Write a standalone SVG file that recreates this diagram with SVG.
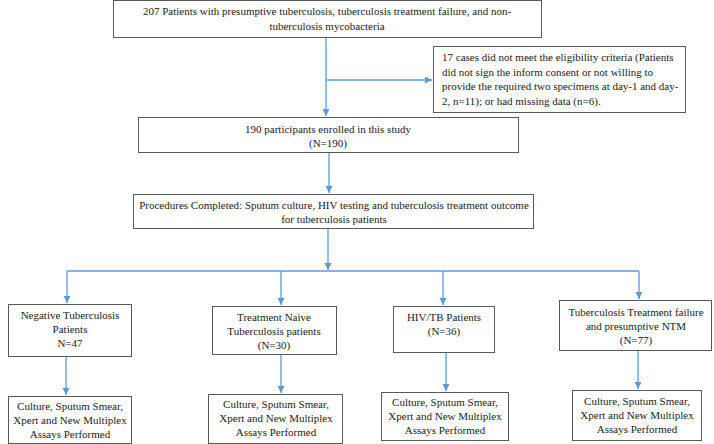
<svg xmlns="http://www.w3.org/2000/svg" width="714" height="444" viewBox="0 0 714 444">
<defs>
<marker id="ah" markerUnits="userSpaceOnUse" markerWidth="8" markerHeight="8" refX="7" refY="3.5" orient="auto">
<path d="M0,0 L7,3.5 L0,7 z" fill="#5B9BD5"/>
</marker>
<style>
.box{fill:#fff;stroke:#595959;stroke-width:1}
.t{font-family:"Liberation Serif","Times New Roman",serif;font-size:11px;fill:#222}
.c{text-anchor:middle}
.ln{fill:none;stroke:#5B9BD5;stroke-width:1.3}
</style>
</defs>
<rect width="714" height="444" fill="#fff"/>
<g id="connectors">
<path class="ln" d="M326,37 V116" marker-end="url(#ah)"/>
<path class="ln" d="M326,80 H432" marker-end="url(#ah)"/>
<path class="ln" d="M329,152 V193" marker-end="url(#ah)"/>
<path class="ln" d="M328,228 V270" marker-end="url(#ah)"/>
<path class="ln" d="M67,271 H639"/>
<path class="ln" d="M67,271 V303" marker-end="url(#ah)"/>
<path class="ln" d="M281,271 V305" marker-end="url(#ah)"/>
<path class="ln" d="M443,271 V305" marker-end="url(#ah)"/>
<path class="ln" d="M639,271 V299" marker-end="url(#ah)"/>
<path class="ln" d="M66,356 V395" marker-end="url(#ah)"/>
<path class="ln" d="M281,354 V393" marker-end="url(#ah)"/>
<path class="ln" d="M446,352 V391" marker-end="url(#ah)"/>
<path class="ln" d="M638,350 V389" marker-end="url(#ah)"/>
</g>
<g id="n-top">
<rect class="box" x="113.5" y="0.5" width="428" height="37"/>
<text class="t c" x="327" y="15">207 Patients with presumptive tuberculosis, tuberculosis treatment failure, and non-</text>
<text class="t c" x="327" y="29.5">tuberculosis mycobacteria</text>
</g>
<g id="n-excluded">
<rect class="box" x="433.5" y="46.5" width="252" height="66"/>
<text class="t" x="442" y="61">17 cases did not meet the eligibility criteria (Patients</text>
<text class="t" x="442" y="75.5">did not sign the inform consent or not willing to</text>
<text class="t" x="442" y="90">provide the required two specimens at day-1 and day-</text>
<text class="t" x="442" y="104.5">2, n=11); or had missing data (n=6).</text>
</g>
<g id="n-enrolled">
<rect class="box" x="138.5" y="117.5" width="380" height="35"/>
<text class="t c" x="328" y="133">190 participants enrolled in this study</text>
<text class="t c" x="328" y="147">(N=190)</text>
</g>
<g id="n-procedures">
<rect class="box" x="133.5" y="194.5" width="400" height="34"/>
<text class="t c" x="334" y="209">Procedures Completed: Sputum culture, HIV testing and tuberculosis treatment outcome</text>
<text class="t c" x="334" y="223">for tuberculosis patients</text>
</g>
<g id="n-negative">
<rect class="box" x="8.5" y="304.5" width="123" height="52"/>
<text class="t c" x="70" y="319">Negative Tuberculosis</text>
<text class="t c" x="70" y="333">Patients</text>
<text class="t c" x="70" y="347">N=47</text>
</g>
<g id="n-naive">
<rect class="box" x="212.5" y="306.5" width="124" height="48"/>
<text class="t c" x="274" y="321">Treatment Naive</text>
<text class="t c" x="274" y="335">Tuberculosis patients</text>
<text class="t c" x="274" y="349">(N=30)</text>
</g>
<g id="n-hivtb">
<rect class="box" x="393.5" y="306.5" width="101" height="46"/>
<text class="t c" x="444" y="321">HIV/TB Patients</text>
<text class="t c" x="444" y="335">(N=36)</text>
</g>
<g id="n-failure">
<rect class="box" x="559.5" y="300.5" width="152" height="50"/>
<text class="t c" x="636" y="316">Tuberculosis Treatment failure</text>
<text class="t c" x="636" y="330">and presumptive NTM</text>
<text class="t c" x="636" y="344">(N=77)</text>
</g>
<g id="n-assay1">
<rect class="box" x="8.5" y="396.5" width="123" height="47"/>
<text class="t c" x="70" y="410">Culture, Sputum Smear,</text>
<text class="t c" x="70" y="424">Xpert and New Multiplex</text>
<text class="t c" x="70" y="438">Assays Performed</text>
</g>
<g id="n-assay2">
<rect class="box" x="208.5" y="394.5" width="134" height="49"/>
<text class="t c" x="276" y="408">Culture, Sputum Smear,</text>
<text class="t c" x="276" y="422">Xpert and New Multiplex</text>
<text class="t c" x="276" y="436">Assays Performed</text>
</g>
<g id="n-assay3">
<rect class="box" x="381.5" y="392.5" width="127" height="48"/>
<text class="t c" x="445" y="406">Culture, Sputum Smear,</text>
<text class="t c" x="445" y="420">Xpert and New Multiplex</text>
<text class="t c" x="445" y="434">Assays Performed</text>
</g>
<g id="n-assay4">
<rect class="box" x="572.5" y="390.5" width="129" height="50"/>
<text class="t c" x="637" y="405">Culture, Sputum Smear,</text>
<text class="t c" x="637" y="419">Xpert and New Multiplex</text>
<text class="t c" x="637" y="433">Assays Performed</text>
</g>
</svg>
